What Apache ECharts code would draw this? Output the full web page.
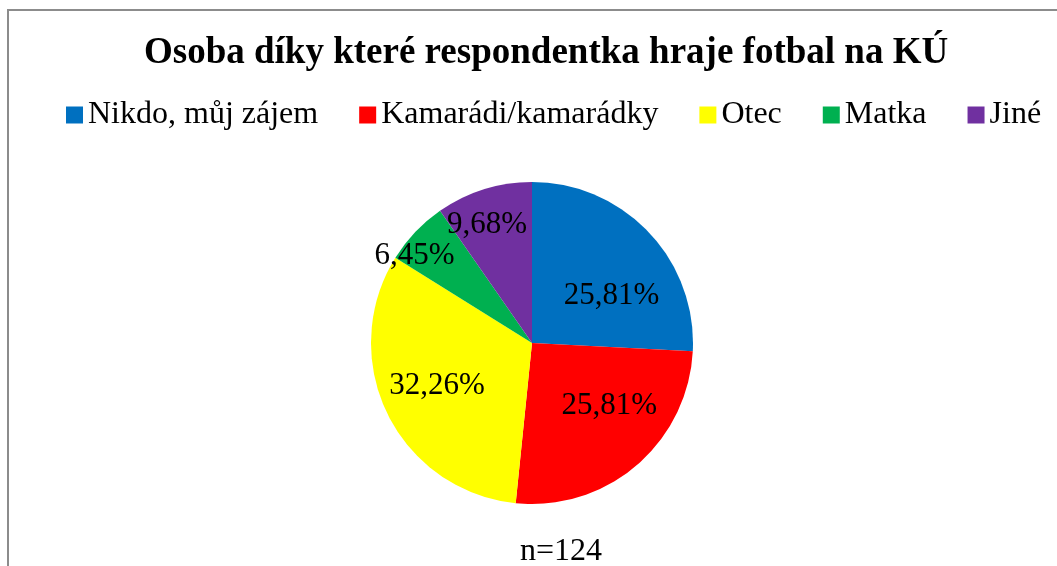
<!DOCTYPE html>
<html><head><meta charset="utf-8">
<script src="https://cdn.jsdelivr.net/npm/echarts@6/dist/echarts.min.js"></script>
<style>html,body{margin:0;padding:0;background:#fff}#c{width:1057px;height:566px}</style>
</head><body><div id="c"></div>
<script>
const titleText = 'Osoba díky které respondentka hraje fotbal na KÚ';
const noteText = 'n=124';
const categories = ['Nikdo, můj zájem', 'Kamarádi/kamarádky', 'Otec', 'Matka', 'Jiné'];
const counts = [32, 32, 40, 8, 12];
const colors = ['#0070C0', '#FF0000', '#FFFF00', '#00B050', '#7030A0'];

const labelShift = [[19, 10], [23, 0], [-20, 6], [-57, -30], [-20, -38]];
const font = '"Liberation Serif", "Times New Roman", serif';
const total = counts.reduce((a, b) => a + b, 0);

const chart = echarts.init(document.getElementById('c'), null, {renderer: 'canvas'});
chart.setOption({
  animation: false,
  backgroundColor: '#fff',
  color: colors,
  title: [
    {text: titleText, left: 139, top: 30,
     textStyle: {fontFamily: font, fontSize: 37, fontWeight: 'bold', color: '#000'}},
    {text: noteText, left: 515, top: 531,
     textStyle: {fontFamily: font, fontSize: 32, fontWeight: 'normal', color: '#000'}}
  ],
  legend: {
    left: 61, top: 94, itemWidth: 17, itemHeight: 17, itemGap: 41, icon: 'rect',
    textStyle: {fontFamily: font, fontSize: 32, color: '#000'},
    data: categories
  },
  graphic: [{type: 'rect', shape: {x: 8, y: 10, width: 1200, height: 700},
    style: {fill: 'none', stroke: '#8c8c8c', lineWidth: 2}, silent: true, z: -1}],
  series: [{
    type: 'pie',
    center: [532, 343], radius: 161,
    startAngle: 90, clockwise: true,
    avoidLabelOverlap: false,
    itemStyle: {borderWidth: 0},
    label: {
      position: 'inside',
      formatter: p => (p.value / total * 100).toFixed(2).replace('.', ',') + '%',
      fontFamily: font, fontSize: 31, color: '#000'
    },
    labelLine: {show: false},
    labelLayout: p => ({dx: labelShift[p.dataIndex][0], dy: labelShift[p.dataIndex][1]}),
    data: categories.map((n, i) => ({name: n, value: counts[i]}))
  }]
});
</script></body></html>
